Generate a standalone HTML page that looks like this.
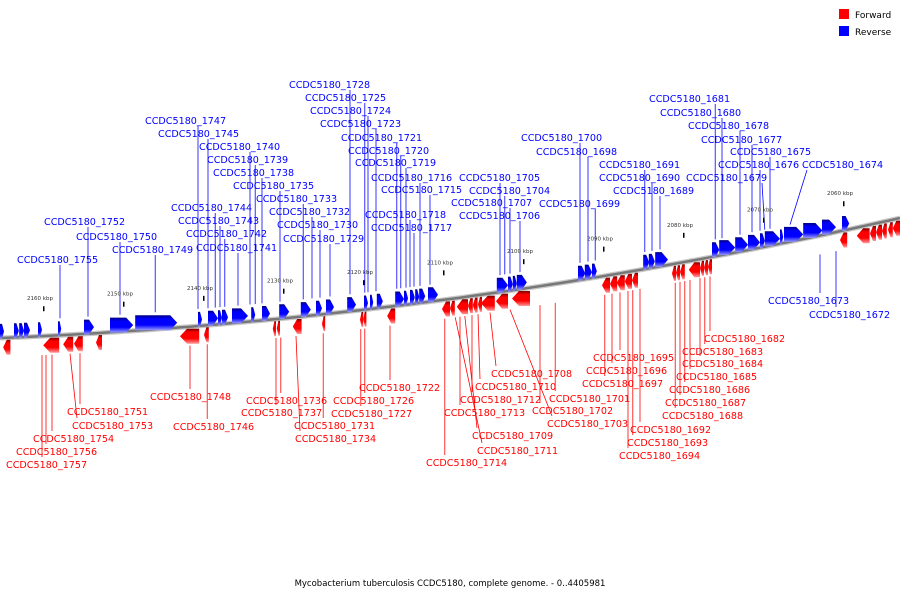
<!DOCTYPE html>
<html><head><meta charset="utf-8"><title>Genome map</title>
<style>
html,body{margin:0;padding:0;background:#fff;}
svg{display:block;font-family:"DejaVu Sans","Liberation Sans",sans-serif;}
</style></head>
<body>
<svg id="chart" width="900" height="600" viewBox="0 0 900 600">
<defs>
<linearGradient id="gb" x1="0" y1="0" x2="0" y2="1">
<stop offset="0" stop-color="#000080"/><stop offset="0.25" stop-color="#0000ff"/><stop offset="0.65" stop-color="#0000ff"/><stop offset="1" stop-color="#9a9aff"/></linearGradient>
<linearGradient id="gr" x1="0" y1="0" x2="0" y2="1">
<stop offset="0" stop-color="#800000"/><stop offset="0.25" stop-color="#ff0000"/><stop offset="0.65" stop-color="#ff0000"/><stop offset="1" stop-color="#ff9a9a"/></linearGradient>
</defs>
<g id="legend">
<rect x="839" y="9" width="10" height="10" fill="#ff0000"/>
<text x="855" y="18" font-size="9" fill="#000">Forward</text>
<rect x="839" y="26" width="10" height="10" fill="#0000ff"/>
<text x="855" y="35" font-size="9" fill="#000">Reverse</text>
</g>
<text x="450" y="586" font-size="8.5" text-anchor="middle" fill="#000">Mycobacterium tuberculosis CCDC5180, complete genome. - 0..4405981</text>
</svg>
<script>
const kbpTicks = [2160,2150,2140,2130,2120,2110,2100,2090,2080,2070,2060];
const blueStart = [2165.0,2163.25,2162.6,2162.0,2160.25,2157.75,2154.5,2151.25,2148.1,2140.25,2139.0,2137.75,2137.25,2136.0,2133.6,2132.25,2130.1,2127.4,2125.5,2124.25,2121.6,2119.5,2118.75,2117.9,2115.6,2114.5,2113.75,2113.1,2112.6,2111.5,2102.9,2101.5,2100.9,2100.4,2092.75,2091.9,2091.0,2084.6,2083.9,2083.1,2076.0,2075.1,2073.1,2071.5,2070.0,2069.4,2067.5,2067.0,2064.6,2062.25,2059.75];
const blueLen = [0.5,0.6,0.6,0.75,0.5,0.4,1.25,2.9,5.25,0.5,1.25,0.5,0.75,2.0,0.5,1.0,1.25,1.25,0.75,1.0,1.1,0.5,0.4,0.75,1.1,0.5,0.6,0.5,0.75,1.25,1.4,0.6,0.5,1.25,0.9,0.9,0.6,0.75,0.75,1.6,0.9,2.0,1.6,1.5,0.6,1.9,0.4,2.4,2.4,1.75,0.9];
const redStart = [2164.6,2159.6,2157.1,2155.75,2153.0,2142.5,2139.5,2130.9,2130.4,2128.4,2124.75,2120.0,2119.6,2116.6,2109.75,2108.75,2107.9,2106.5,2105.9,2105.25,2104.9,2103.0,2101.0,2089.75,2088.75,2087.9,2086.9,2086.0,2081.0,2080.5,2080.0,2078.9,2077.5,2077.0,2076.5,2060.0,2057.9,2056.25,2055.5,2054.75,2054.0,2053.4];
const redLen = [0.9,2.0,1.25,1.1,0.75,2.4,0.6,0.4,0.4,1.1,0.4,0.4,0.4,1.0,1.0,0.6,1.4,0.6,0.6,0.5,1.75,1.5,2.25,1.0,0.9,1.0,0.9,0.75,0.5,0.5,0.6,1.4,0.5,0.5,0.5,0.9,1.6,0.75,0.75,0.6,0.6,0.9];
const blueNames = ["1728","1725","1724","1723","1721","1720","1719","1716","1715","1718","1717","1747","1745","1740","1739","1738","1735","1733","1732","1730","1729","1744","1743","1742","1741","1752","1750","1749","1755","1705","1704","1707","1706","1700","1698","1699","1691","1690","1689","1681","1680","1678","1677","1675","1676","1674","1679"];
const blueLabelX = [289,305,310,320,341,348,355,371,381,365,371,145,158,199,207,213,233,256,269,277,283,171,178,186,196,44,76,112,17,459,469,451,459,521,536,539,599,599,613,649,660,688,701,730,718,802,686];
const blueLabelY = [84,97,110,123,137,150,162,177,189,214,227,120,133,146,159,172,185,198,211,224,238,207,220,233,247,221,236,249,259,177,190,202,215,137,151,203,164,177,190,98,112,125,139,151,164,164,177];
const blueAnchorKbp = [2121.25,2119.4,2119.0,2118.0,2115.4,2114.9,2114.25,2112.5,2111.25,2113.75,2113.25,2140.25,2139.0,2133.75,2133.1,2132.25,2130.0,2127.1,2126.0,2125.0,2123.75,2138.1,2137.5,2136.9,2135.25,2154.0,2150.0,2145.6,2157.5,2102.5,2101.9,2101.25,2100.0,2092.5,2091.5,2090.6,2084.4,2083.5,2082.5,2075.6,2074.75,2072.5,2071.0,2068.75,2070.0,2066.25,2069.4];
const lowerBlueNames = ["1673","1672"];
const lowerBlueLabelX = [768,809];
const lowerBlueLabelY = [300,314];
const lowerBlueAnchorKbp = [2062.5,2060.5];
const redNames = ["1682","1683","1684","1685","1686","1687","1688","1692","1693","1694","1695","1696","1697","1701","1702","1703","1708","1710","1712","1713","1709","1711","1714","1722","1726","1727","1731","1734","1736","1737","1748","1746","1751","1753","1754","1756","1757"];
const redLabelX = [704,682,682,676,669,665,662,630,627,619,593,586,582,549,532,547,491,475,460,444,472,477,426,359,333,331,294,295,246,241,150,173,67,72,33,16,6];
const redLabelY = [338,351,363,376,389,402,415,429,442,455,357,370,383,398,410,423,373,386,399,412,435,450,462,387,400,413,425,438,400,412,396,426,411,425,438,451,464];
const redAnchorKbp = [2076.25,2076.9,2077.5,2078.75,2079.4,2080.0,2080.6,2085.0,2085.9,2086.5,2087.5,2088.5,2089.4,2095.6,2097.5,2101.25,2103.75,2105.25,2106.0,2107.5,2106.9,2108.1,2109.4,2116.25,2119.4,2119.9,2124.6,2128.0,2129.9,2130.5,2141.25,2139.1,2155.0,2156.25,2158.5,2159.25,2159.75];

const NS = "http://www.w3.org/2000/svg";
const svg = document.getElementById('chart');
function xs(k){ return (2165 - k) * 8; }
function cy(x){ return 338 - 0.04*x - 1.037e-4*x*x; }
function mk(tag, attrs, parent){ const e=document.createElementNS(NS,tag); for(const k in attrs) e.setAttribute(k,attrs[k]); (parent||svg).appendChild(e); return e; }

const lines = mk('g',{});



let d='';
for(let x=0;x<=900;x+=10){ d+=(x?'L':'M')+x+','+cy(x).toFixed(1); }
const sh = mk('path',{d:d,fill:'none',stroke:'#c8c8c8','stroke-width':5});


const bb = mk('path',{d:d,fill:'none',stroke:'#777','stroke-width':2.5});



kbpTicks.forEach((k,i)=>{
  const x=xs(k), y=cy(x);
  const t=mk('text',{x:x,y:y-36,'font-size':5.5,'text-anchor':'middle',fill:'#333'});
  t.textContent=k+' kbp';
  
  
  const m=mk('rect',{x:x+3,y:y-30,width:1.5,height:5,fill:'#000'});
  
  
});

function gene(k0,len,blue,i){
  const x0=xs(k0), x1=xs(k0-len), w=x1-x0, xm=(x0+x1)/2, c=cy(xm);
  const h=15, head=Math.min(7,w*0.5);
  let pts, top;
  if(blue){ top=c-h+1; pts=[[x0,top],[x1-head,top],[x1,top+h/2],[x1-head,top+h],[x0,top+h]]; }
  else { top=c+2; pts=[[x1,top],[x0+head,top],[x0,top+h/2],[x0+head,top+h],[x1,top+h]]; }
  const p=mk('polygon',{points:pts.map(q=>q[0].toFixed(1)+','+q[1].toFixed(1)).join(' '),fill:blue?'url(#gb)':'url(#gr)'});
  
  
}
blueStart.forEach((k,i)=>gene(k,blueLen[i],true,i));
redStart.forEach((k,i)=>gene(k,redLen[i],false,i));

function label(name,lx,ly,ak,color,above,geneAbove){
  const t=mk('text',{x:lx,y:ly+4,'font-size':9.6,fill:color});
  t.textContent='CCDC5180_'+name;
  
  
  const gx=xs(ak);
  const gy= geneAbove ? cy(gx)-17 : cy(gx)+19;
  const lxEnd=Math.max(lx+5,Math.min(lx+76,gx));
  const lyEnd= above ? ly+6 : ly-7;
  const l=mk('line',{x1:lxEnd,y1:lyEnd,x2:gx,y2:gy,stroke:color,'stroke-width':0.8},lines);
  
  
}
blueNames.forEach((n,i)=>label(n,blueLabelX[i],blueLabelY[i],blueAnchorKbp[i],'#0000ff',true,true));
lowerBlueNames.forEach((n,i)=>label(n,lowerBlueLabelX[i],lowerBlueLabelY[i],lowerBlueAnchorKbp[i],'#0000ff',false,false));
redNames.forEach((n,i)=>label(n,redLabelX[i],redLabelY[i],redAnchorKbp[i],'#ff0000',false,false));
</script>
</body></html>
